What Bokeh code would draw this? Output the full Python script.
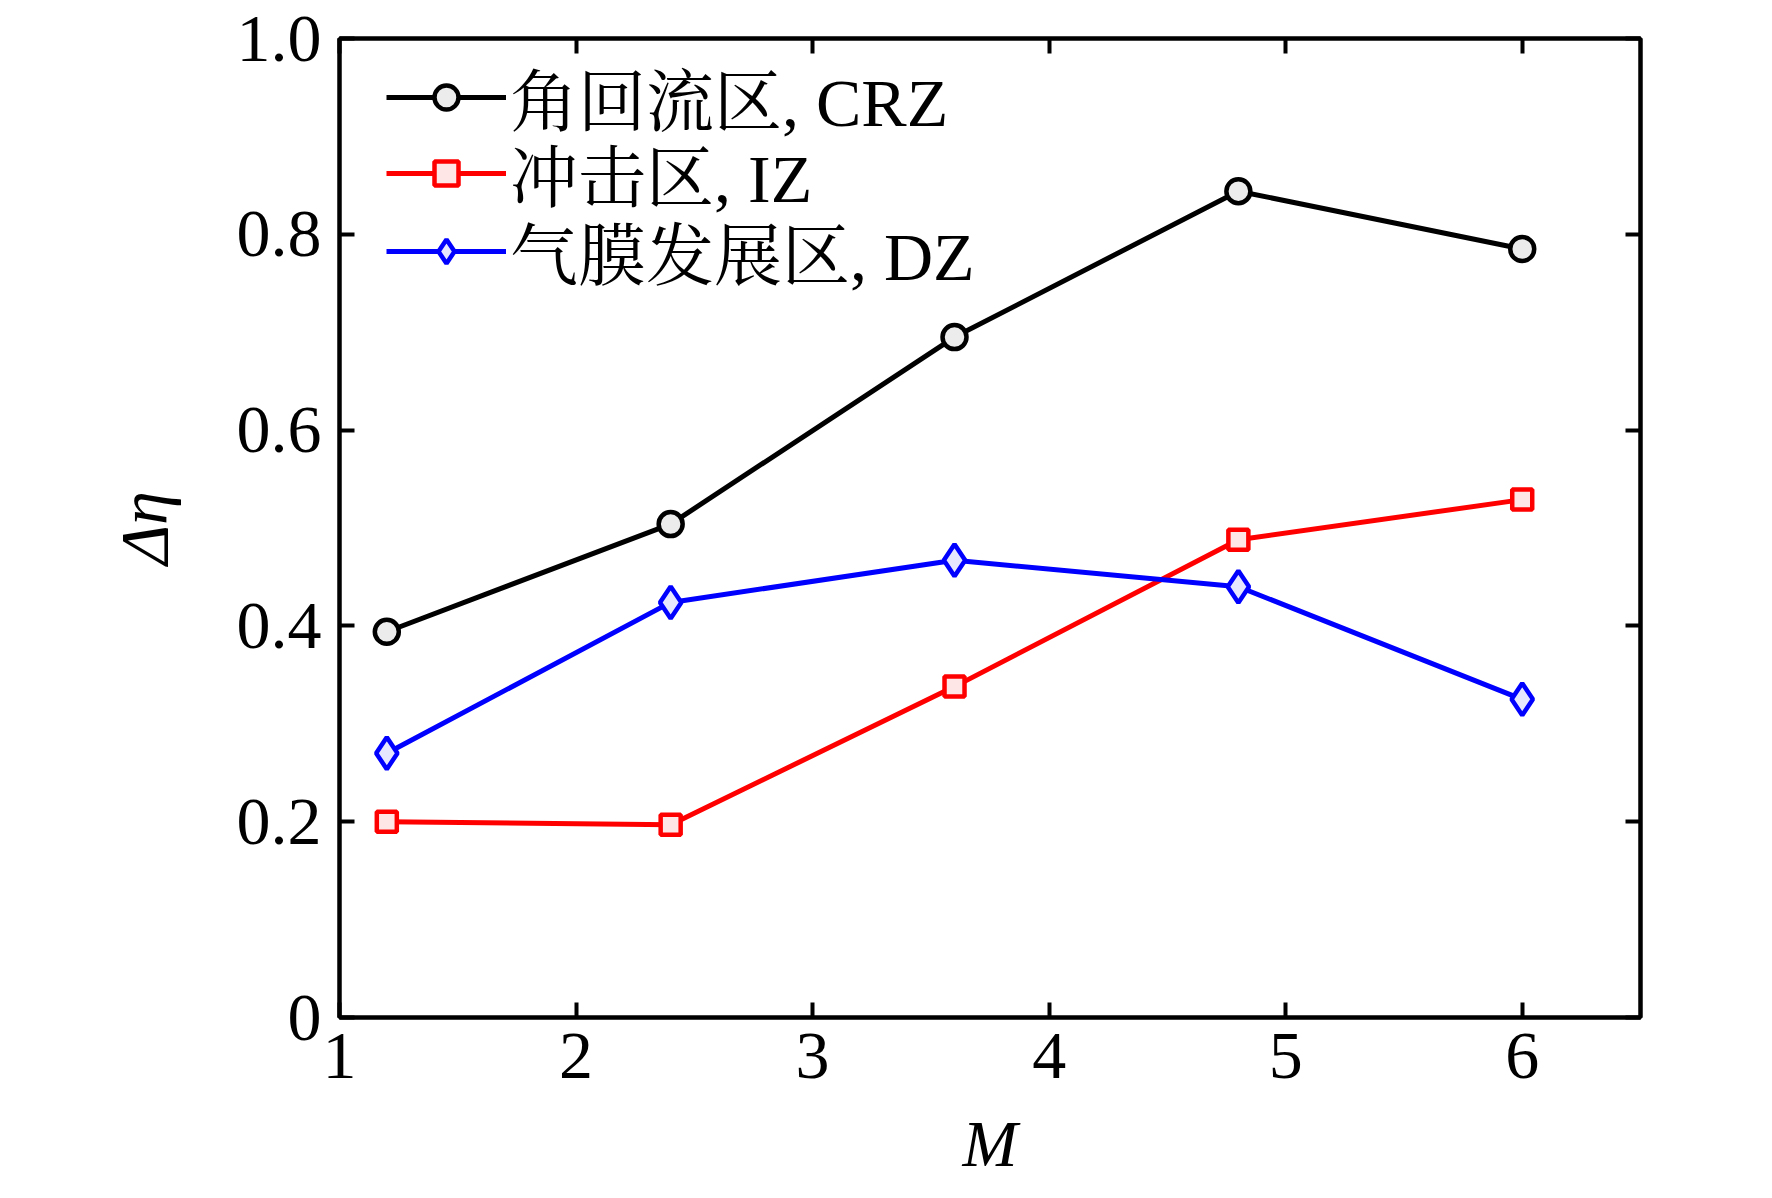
from bokeh.plotting import figure
from bokeh.models import FixedTicker, LinearAxis, Range1d, Legend, LegendItem
from bokeh.embed import file_html
from bokeh.resources import INLINE

M = [1.2, 2.4, 3.6, 4.8, 6.0]
crz = [0.394, 0.504, 0.695, 0.844, 0.785]
iz = [0.200, 0.197, 0.338, 0.488, 0.529]
dz = [0.270, 0.424, 0.467, 0.440, 0.325]
labels = ["角回流区, CRZ", "冲击区, IZ", "气膜发展区, DZ"]
x_ticks = [1, 2, 3, 4, 5, 6]
y_ticks = [0, 0.2, 0.4, 0.6, 0.8, 1.0]
y_tick_labels = {0: "0", 0.2: "0.2", 0.4: "0.4", 0.6: "0.6", 0.8: "0.8", 1.0: "1.0"}

FONT = "Liberation Serif, 'Noto Serif CJK SC', 'Noto Sans CJK SC'"

p = figure(width=1756, height=1182, output_backend="svg", toolbar_location=None,
           x_range=Range1d(1, 6.5), y_range=Range1d(0, 1.0),
           min_border_left=339, min_border_right=116, min_border_top=38, min_border_bottom=150)
p.xgrid.visible = False
p.ygrid.visible = False
p.outline_line_color = "black"
p.outline_line_width = 4

def style_axis(ax, show_labels=True):
    ax.axis_line_width = 4
    ax.axis_line_color = "black"
    ax.major_tick_in = 15
    ax.major_tick_out = 0
    ax.major_tick_line_width = 4
    ax.minor_tick_line_color = None
    ax.major_label_text_font = FONT
    ax.major_label_text_font_size = "68px"
    ax.major_label_text_color = "black"
    if not show_labels:
        ax.major_label_text_font_size = "0px"
        ax.major_label_text_alpha = 0

p.xaxis.ticker = FixedTicker(ticks=x_ticks)
p.yaxis.ticker = FixedTicker(ticks=y_ticks)
p.yaxis.major_label_overrides = y_tick_labels
style_axis(p.xaxis[0])
style_axis(p.yaxis[0])
p.xaxis.major_label_standoff = 16
p.yaxis.major_label_standoff = 18
p.xaxis.axis_label = "M"
p.xaxis.axis_label_text_font = FONT
p.xaxis.axis_label_text_font_style = "italic"
p.xaxis.axis_label_text_font_size = "66px"
p.xaxis.axis_label_text_color = "black"
p.xaxis.axis_label_standoff = 26
p.yaxis.axis_label = "Δη"
p.yaxis.axis_label_text_font = FONT
p.yaxis.axis_label_text_font_style = "italic"
p.yaxis.axis_label_text_font_size = "68px"
p.yaxis.axis_label_text_color = "black"
p.yaxis.axis_label_standoff = 52

top = LinearAxis(ticker=FixedTicker(ticks=x_ticks))
style_axis(top, False)
right = LinearAxis(ticker=FixedTicker(ticks=y_ticks))
style_axis(right, False)
p.add_layout(top, "above")
p.add_layout(right, "right")

l1 = p.line(M, crz, line_color="black", line_width=5)
s1 = p.scatter(M, crz, marker="circle", size=24, line_color="black", line_width=4.5, fill_color="#ececec")
l2 = p.line(M, iz, line_color="red", line_width=5)
s2 = p.scatter(M, iz, marker="square", size=20, line_color="red", line_width=4.5, fill_color="#ffe6e6")
l3 = p.line(M, dz, line_color="blue", line_width=5)
s3 = p.scatter(M, dz, marker="diamond", size=32, line_color="blue", line_width=4.5, fill_color="#e6e6ff")

entries = [(labels[0], [l1, s1], 872), (labels[1], [l2, s2], 796), (labels[2], [l3, s3], 718)]
for text, rends, vy in entries:
    lg = Legend(items=[LegendItem(label=text, renderers=rends)], location=(47, vy))
    lg.border_line_color = None
    lg.background_fill_alpha = 0
    lg.margin = 0
    lg.padding = 0
    lg.spacing = 0
    lg.glyph_width = 120
    lg.glyph_height = 60
    lg.label_height = 60
    lg.label_standoff = 4
    lg.label_text_font = FONT
    lg.label_text_font_size = "68px"
    lg.label_text_color = "black"
    p.add_layout(lg)

open("out.html", "w").write(file_html(p, INLINE))
